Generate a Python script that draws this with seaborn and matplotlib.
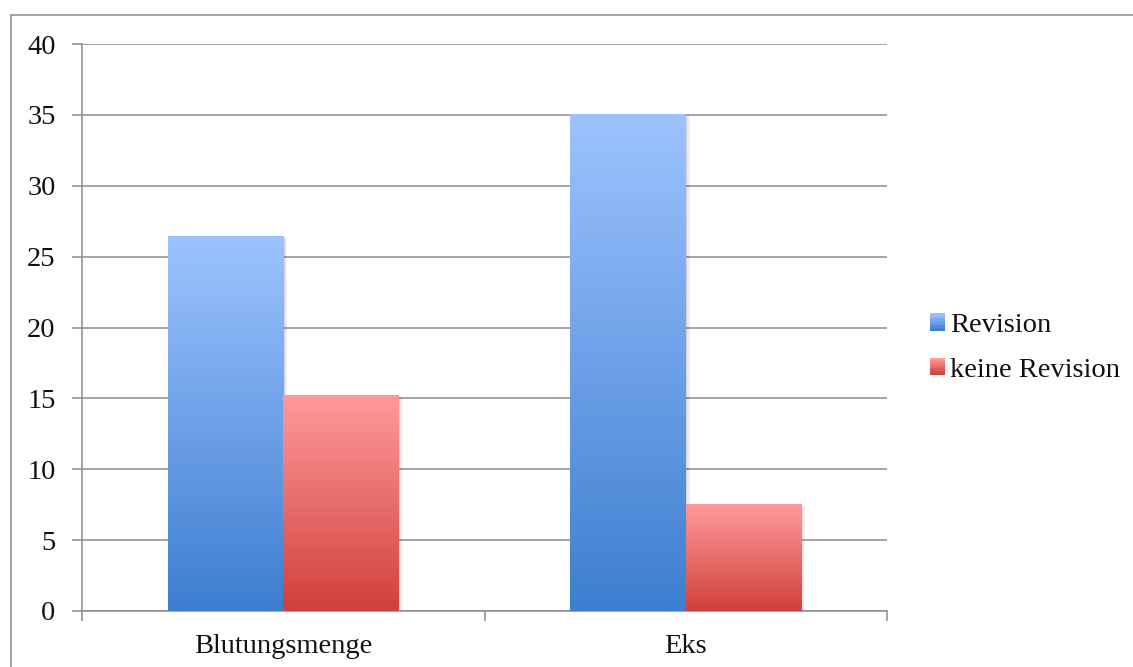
import numpy as np
import pandas as pd
import matplotlib
matplotlib.use("Agg")
import matplotlib.pyplot as plt
import seaborn as sns
from matplotlib.colors import LinearSegmentedColormap
from matplotlib.patches import Rectangle
from matplotlib.lines import Line2D
from matplotlib.legend_handler import HandlerBase
import matplotlib.patheffects as pe

categories = ["Blutungsmenge", "Eks"]
series_names = ["Revision", "keine Revision"]
revision = [26.4, 35.0]
keine_revision = [15.2, 7.5]
y_ticks = [0, 5, 10, 15, 20, 25, 30, 35, 40]

grad = {
    "Revision": ("#3d7ed0", "#9dc3ff"),
    "keine Revision": ("#d0403c", "#ff9a9a"),
}

df = pd.DataFrame({
    "cat": categories * 2,
    "series": [series_names[0]] * 2 + [series_names[1]] * 2,
    "value": revision + keine_revision,
})

sns.set_theme(style="white")
plt.rcParams["font.family"] = ["Liberation Serif", "DejaVu Serif"]
grid_c = "#8c8c8c"
fs = 20.5

fig = plt.figure(figsize=(11.33, 6.67), dpi=100)
ax = fig.add_axes([82 / 1133, 1 - 611 / 667, (887 - 82) / 1133, (611 - 44) / 667])

sns.barplot(data=df, x="cat", y="value", hue="series", order=categories,
            hue_order=series_names, width=0.573, ax=ax, legend=False,
            palette=[grad[s][1] for s in series_names], saturation=1)

ax.set_ylim(0, 40)
ax.set_xlim(-0.5, 1.5)

# gradient fills
cmaps = {s: LinearSegmentedColormap.from_list(s, list(grad[s])) for s in series_names}
gvals = np.linspace(0, 1, 256).reshape(-1, 1)
for i, cont in enumerate(ax.containers):
    s = series_names[i]
    for p in cont:
        x, y = p.get_x(), p.get_y()
        w, h = p.get_width(), p.get_height()
        p.set_path_effects([
            pe.SimplePatchShadow(offset=(3.0, -1.5), shadow_rgbFace="k", alpha=0.05),
            pe.SimplePatchShadow(offset=(2.0, -1.0), shadow_rgbFace="k", alpha=0.06),
            pe.SimplePatchShadow(offset=(1.0, -0.5), shadow_rgbFace="k", alpha=0.07),
        ])
        p.set_zorder(2)
        ax.imshow(gvals, cmap=cmaps[s], origin="lower", extent=[x, x + w, y, y + h],
                  aspect="auto", zorder=3, interpolation="bicubic")
ax.set_xlim(-0.5, 1.5)
ax.set_ylim(0, 40)
ax.set_aspect("auto")

ax.set_yticks(y_ticks)
ax.set_yticklabels([str(t) for t in y_ticks])
ax.yaxis.grid(True, color=grid_c, linewidth=1.1)
ax.set_axisbelow(True)
ax.set_xlabel("")
ax.set_ylabel("")

ax.set_xticks([0, 1])
ax.set_xticklabels(categories)
ax.set_xticks([-0.5, 0.5, 1.5], minor=True)
ax.tick_params(axis="x", which="major", length=0, pad=16.5, labelsize=fs, colors="#111111")
ax.tick_params(axis="x", which="minor", length=7, width=1.1, color=grid_c, direction="out", bottom=True)
ax.tick_params(axis="y", which="major", length=7, width=1.1, color=grid_c, direction="out",
               left=True, pad=12, labelsize=fs, labelcolor="#111111")

for side in ["top", "right"]:
    ax.spines[side].set_visible(False)
for side in ["left", "bottom"]:
    ax.spines[side].set_color(grid_c)
    ax.spines[side].set_linewidth(1.1)


class GradHandler(HandlerBase):
    def __init__(self, cmap):
        super().__init__()
        self.cmap = cmap

    def create_artists(self, legend, orig_handle, xdescent, ydescent, width, height, fontsize, trans):
        n = 12
        arts = []
        for k in range(n):
            r = Rectangle((-xdescent, -ydescent + height * k / n), width, height / n + 0.3,
                          facecolor=self.cmap(k / (n - 1)), edgecolor="none", transform=trans)
            arts.append(r)
        return arts


handles = [Rectangle((0, 0), 1, 1) for _ in series_names]
leg = fig.legend(handles, series_names, loc="center left",
                 bbox_to_anchor=(930 / 1133, 1 - 348 / 667), frameon=False,
                 handler_map={handles[i]: GradHandler(cmaps[s]) for i, s in enumerate(series_names)},
                 fontsize=fs, handlelength=0.53, handleheight=0.53, handletextpad=0.18,
                 labelspacing=0.68, borderpad=0, borderaxespad=0)
for t in leg.get_texts():
    t.set_color("#111111")

# outer frame
fig.add_artist(Line2D([11 / 1133, 11 / 1133], [0, 1 - 15 / 667], transform=fig.transFigure,
                      color=grid_c, linewidth=1.1))
fig.add_artist(Line2D([11 / 1133, 1], [1 - 15 / 667, 1 - 15 / 667], transform=fig.transFigure,
                      color=grid_c, linewidth=1.1))

fig.savefig("out.png", dpi=100)
